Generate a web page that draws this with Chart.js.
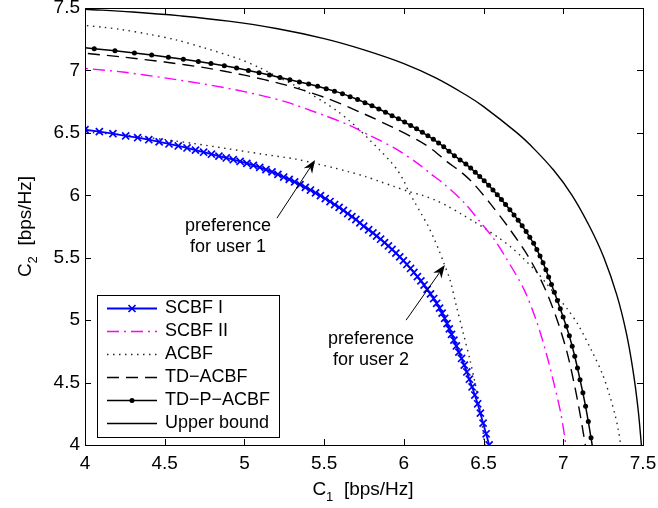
<!DOCTYPE html>
<html>
<head>
<meta charset="utf-8">
<script src="https://cdn.jsdelivr.net/npm/chart.js@4.4.1/dist/chart.umd.min.js"></script>
<style>
  html, body { margin: 0; padding: 0; background: #fff; }
  canvas { display: block; }
</style>
</head>
<body>
<canvas id="c" width="658" height="508"></canvas>
<script>
// ---- axis ticks ----
const xTicks = [4, 4.5, 5, 5.5, 6, 6.5, 7, 7.5];
const yTicks = [4, 4.5, 5, 5.5, 6, 6.5, 7, 7.5];
const xTickLabels = ['4', '4.5', '5', '5.5', '6', '6.5', '7', '7.5'];
const yTickLabels = ['4', '4.5', '5', '5.5', '6', '6.5', '7', '7.5'];

// ---- SCBF I (rate pairs C1, C2) ----
const scbf1C1 = [4.000,4.090,4.175,4.255,4.330,4.400,4.465,4.527,4.585,4.640,4.693,4.744,4.793,4.840,4.886,4.930,4.973,5.015,5.056,5.096,5.135,5.173,5.210,5.246,5.281,5.315,5.349,5.382,5.414,5.446,5.477,5.507,5.537,5.566,5.594,5.621,5.648,5.674,5.699,5.724,5.748,5.779,5.806,5.829,5.854,5.879,5.903,5.926,5.950,5.974,5.997,6.019,6.042,6.063,6.085,6.107,6.127,6.146,6.167,6.187,6.206,6.224,6.240,6.256,6.271,6.285,6.299,6.314,6.329,6.345,6.362,6.379,6.395,6.411,6.428,6.445,6.463,6.480,6.497,6.516,6.535];
const scbf1C2 = [6.525,6.510,6.493,6.475,6.461,6.445,6.428,6.411,6.395,6.379,6.362,6.345,6.329,6.314,6.299,6.285,6.271,6.256,6.240,6.224,6.206,6.187,6.167,6.146,6.127,6.107,6.085,6.063,6.042,6.019,5.997,5.974,5.950,5.926,5.903,5.879,5.854,5.829,5.806,5.779,5.752,5.724,5.699,5.674,5.648,5.621,5.594,5.566,5.537,5.507,5.477,5.446,5.414,5.382,5.349,5.315,5.281,5.246,5.210,5.173,5.135,5.096,5.056,5.015,4.973,4.930,4.886,4.840,4.793,4.744,4.693,4.640,4.585,4.527,4.465,4.400,4.330,4.255,4.175,4.090,4.000];

// ---- SCBF II ----
const scbf2C1 = [3.900,4.000,4.250,4.500,4.750,5.000,5.250,5.500,5.655,5.788,5.948,6.095,6.170,6.248,6.373,6.478,6.562,6.640,6.752,6.830,6.890,6.940,6.985,7.016,7.025];
const scbf2C2 = [7.025,7.016,6.985,6.940,6.890,6.830,6.752,6.640,6.562,6.478,6.373,6.248,6.170,6.095,5.948,5.788,5.655,5.500,5.250,5.000,4.750,4.500,4.250,4.000,3.900];

// ---- ACBF, preference for user 2 ----
const acbfU2C1 = [3.900,4.000,4.120,4.230,4.400,4.570,4.750,4.970,5.090,5.190,5.300,5.390,5.500,5.587,5.660,5.725,5.788,5.850,5.913,5.960,6.000,6.030,6.070,6.110,6.150,6.190,6.220,6.250,6.290,6.330,6.373,6.415,6.447,6.468,6.488,6.503,6.508,6.515];
const acbfU2C2 = [7.370,7.360,7.345,7.327,7.290,7.245,7.180,7.090,7.025,6.960,6.890,6.830,6.745,6.670,6.595,6.520,6.440,6.360,6.275,6.200,6.115,6.030,5.940,5.850,5.760,5.650,5.560,5.460,5.320,5.110,4.894,4.680,4.494,4.360,4.200,4.040,4.000,3.900];

// ---- ACBF, preference for user 1 ----
const acbfU1C1 = [3.900,4.000,4.040,4.200,4.360,4.494,4.680,4.894,5.110,5.320,5.460,5.560,5.650,5.760,5.850,5.940,6.030,6.115,6.200,6.275,6.360,6.440,6.520,6.595,6.670,6.745,6.830,6.890,6.960,7.025,7.090,7.180,7.245,7.290,7.327,7.345,7.360,7.370];
const acbfU1C2 = [6.515,6.508,6.503,6.488,6.468,6.447,6.415,6.373,6.330,6.290,6.250,6.220,6.190,6.150,6.110,6.070,6.030,6.000,5.960,5.913,5.850,5.788,5.725,5.660,5.587,5.500,5.390,5.300,5.190,5.090,4.970,4.750,4.570,4.400,4.230,4.120,4.000,3.900];

// ---- TD-ACBF ----
const tdC1 = [3.900,4.000,4.250,4.500,4.750,5.000,5.250,5.500,5.750,5.935,6.095,6.180,6.270,6.365,6.436,6.541,6.652,6.785,6.886,6.962,7.022,7.067,7.105,7.138,7.150];
const tdC2 = [7.150,7.138,7.105,7.067,7.022,6.962,6.886,6.785,6.652,6.541,6.436,6.365,6.270,6.180,6.095,5.935,5.750,5.500,5.250,5.000,4.750,4.500,4.250,4.000,3.900];

// ---- TD-P-ACBF ----
const tdpC1 = [3.930,4.058,4.188,4.310,4.418,4.523,4.617,4.711,4.790,4.874,4.951,5.025,5.092,5.157,5.223,5.285,5.345,5.403,5.459,5.513,5.565,5.615,5.663,5.710,5.756,5.800,5.843,5.885,5.926,5.966,6.005,6.043,6.080,6.116,6.151,6.185,6.218,6.250,6.283,6.317,6.353,6.389,6.419,6.448,6.476,6.504,6.532,6.559,6.586,6.612,6.638,6.665,6.691,6.717,6.742,6.767,6.790,6.814,6.834,6.854,6.873,6.891,6.908,6.926,6.944,6.963,6.981,6.999,7.019,7.038,7.056,7.072,7.089,7.105,7.123,7.140,7.157,7.174,7.190];
const tdpC2 = [7.190,7.174,7.157,7.140,7.123,7.105,7.089,7.072,7.056,7.038,7.019,6.999,6.981,6.963,6.944,6.926,6.908,6.891,6.873,6.854,6.834,6.814,6.790,6.767,6.742,6.717,6.691,6.665,6.638,6.612,6.586,6.559,6.532,6.504,6.476,6.448,6.419,6.389,6.353,6.317,6.283,6.250,6.218,6.185,6.151,6.116,6.080,6.043,6.005,5.966,5.926,5.885,5.843,5.800,5.756,5.710,5.663,5.615,5.565,5.513,5.459,5.403,5.345,5.285,5.223,5.157,5.092,5.025,4.951,4.874,4.790,4.711,4.617,4.523,4.418,4.310,4.188,4.058,3.930];

// ---- Upper bound ----
const ubC1 = [3.900,4.000,4.300,4.600,4.900,5.200,5.500,5.750,6.000,6.200,6.400,6.500,6.710,6.795,6.940,7.055,7.165,7.255,7.336,7.395,7.437,7.468,7.490,7.497];
const ubC2 = [7.497,7.490,7.468,7.437,7.395,7.336,7.255,7.165,7.055,6.940,6.795,6.710,6.500,6.400,6.200,6.000,5.750,5.500,5.200,4.900,4.600,4.300,4.000,3.900];

const FONT = "'Liberation Sans', Arial, Helvetica, sans-serif";

function pairs(xs, ys) { return xs.map((v, i) => ({ x: v, y: ys[i] })); }

const datasets = [
  { label: 'SCBF I', data: pairs(scbf1C1, scbf1C2), borderColor: '#0000ff', borderWidth: 1.8,
    pointStyle: 'crossRot', pointRadius: 5, pointBorderWidth: 1.7, pointBorderColor: '#0000ff',
    pointBackgroundColor: '#0000ff', tension: 0 },
  { label: 'SCBF II', data: pairs(scbf2C1, scbf2C2), borderColor: '#ff00ff', borderWidth: 1.4,
    borderDash: [12, 5, 2, 5], pointRadius: 0, tension: 0.3 },
  { label: 'ACBF', data: pairs(acbfU2C1, acbfU2C2), borderColor: 'rgba(0,0,0,0.85)', borderWidth: 1.4,
    borderDash: [1.5, 4.5], pointRadius: 0, tension: 0.3 },
  { label: 'ACBF', data: pairs(acbfU1C1, acbfU1C2), borderColor: 'rgba(0,0,0,0.85)', borderWidth: 1.4,
    borderDash: [1.5, 4.5], pointRadius: 0, tension: 0.3, hideInLegend: true },
  { label: 'TD\u2212ACBF', data: pairs(tdC1, tdC2), borderColor: '#000', borderWidth: 1.4,
    borderDash: [12, 7], pointRadius: 0, tension: 0.3 },
  { label: 'TD\u2212P\u2212ACBF', data: pairs(tdpC1, tdpC2), borderColor: '#000', borderWidth: 1.5,
    pointStyle: 'circle', pointRadius: 2.5, pointBorderWidth: 0, pointBackgroundColor: '#000', tension: 0 },
  { label: 'Upper bound', data: pairs(ubC1, ubC2), borderColor: '#000', borderWidth: 1.4,
    pointRadius: 0, tension: 0.4 }
];

// text notes with arrows (anchors in data units)
const notes = [
  { lines: ['preference', 'for user 1'], at: { x: 4.897, y: 5.713 },
    arrowFrom: { x: 5.204, y: 5.817 }, arrowTo: { x: 5.443, y: 6.282 } },
  { lines: ['preference', 'for user 2'], at: { x: 5.794, y: 4.809 },
    arrowFrom: { x: 6.014, y: 5.000 }, arrowTo: { x: 6.257, y: 5.441 } }
];

function drawMarker(ctx, ds, cx, cy) {
  if (!ds.pointRadius) return;
  const r = ds.pointRadius;
  ctx.save();
  ctx.setLineDash([]);
  if (ds.pointStyle === 'crossRot') {
    ctx.strokeStyle = ds.pointBorderColor; ctx.lineWidth = ds.pointBorderWidth;
    ctx.beginPath();
    ctx.moveTo(cx - r * 0.7, cy - r * 0.7); ctx.lineTo(cx + r * 0.7, cy + r * 0.7);
    ctx.moveTo(cx - r * 0.7, cy + r * 0.7); ctx.lineTo(cx + r * 0.7, cy - r * 0.7);
    ctx.stroke();
  } else {
    ctx.fillStyle = ds.pointBackgroundColor;
    ctx.beginPath(); ctx.arc(cx, cy, r, 0, Math.PI * 2); ctx.fill();
  }
  ctx.restore();
}

function drawArrow(ctx, x0, y0, x1, y1) {
  const ang = Math.atan2(y1 - y0, x1 - x0);
  const len = 13, half = 5, notch = 9;
  const bx = x1 - Math.cos(ang) * notch, by = y1 - Math.sin(ang) * notch;
  ctx.beginPath();
  ctx.moveTo(x0, y0); ctx.lineTo(bx, by);
  ctx.lineWidth = 1; ctx.strokeStyle = '#000'; ctx.stroke();
  const px = -Math.sin(ang), py = Math.cos(ang);
  const wx = x1 - Math.cos(ang) * len, wy = y1 - Math.sin(ang) * len;
  ctx.beginPath();
  ctx.moveTo(x1, y1);
  ctx.lineTo(wx + px * half, wy + py * half);
  ctx.lineTo(bx, by);
  ctx.lineTo(wx - px * half, wy - py * half);
  ctx.closePath();
  ctx.fillStyle = '#000'; ctx.fill();
}

const decorations = {
  id: 'decorations',
  afterDraw(chart) {
    const { ctx, chartArea: a, scales } = chart;
    const sx = scales.x, sy = scales.y;
    ctx.save();

    // notes and arrows
    ctx.fillStyle = '#000';
    ctx.font = '18px ' + FONT;
    ctx.textAlign = 'center';
    ctx.textBaseline = 'alphabetic';
    notes.forEach(n => {
      const cx = sx.getPixelForValue(n.at.x), cy = sy.getPixelForValue(n.at.y);
      n.lines.forEach((t, i) => ctx.fillText(t, cx, cy + i * 21));
      drawArrow(ctx, sx.getPixelForValue(n.arrowFrom.x), sy.getPixelForValue(n.arrowFrom.y),
                sx.getPixelForValue(n.arrowTo.x), sy.getPixelForValue(n.arrowTo.y));
    });

    // frame with inward ticks on all four sides
    ctx.strokeStyle = '#000';
    ctx.lineWidth = 1;
    ctx.setLineDash([]);
    ctx.strokeRect(a.left + 0.5, a.top + 0.5, a.right - a.left, a.bottom - a.top);
    const tl = 6;
    ctx.beginPath();
    xTicks.forEach(v => {
      const p = Math.round(sx.getPixelForValue(v)) + 0.5;
      ctx.moveTo(p, a.bottom); ctx.lineTo(p, a.bottom - tl);
      ctx.moveTo(p, a.top); ctx.lineTo(p, a.top + tl);
    });
    yTicks.forEach(v => {
      const p = Math.round(sy.getPixelForValue(v)) + 0.5;
      ctx.moveTo(a.left, p); ctx.lineTo(a.left + tl, p);
      ctx.moveTo(a.right, p); ctx.lineTo(a.right - tl, p);
    });
    ctx.stroke();

    // legend box
    const lx = a.left + 12, lw = 182, lh = 142, ly = a.bottom - 8 - lh;
    const entries = chart.data.datasets.filter(d => !d.hideInLegend);
    ctx.fillStyle = '#fff';
    ctx.fillRect(lx, ly, lw, lh);
    ctx.strokeStyle = '#000'; ctx.lineWidth = 1;
    ctx.strokeRect(Math.round(lx) + 0.5, Math.round(ly) + 0.5, lw, lh);
    ctx.font = '18px ' + FONT;
    ctx.textAlign = 'left';
    ctx.textBaseline = 'middle';
    entries.forEach((d, i) => {
      const ry = Math.round(ly + 13 + i * 23) + 0.5;
      ctx.save();
      ctx.strokeStyle = d.borderColor; ctx.lineWidth = d.borderWidth;
      ctx.setLineDash(d.borderDash || []);
      ctx.beginPath(); ctx.moveTo(lx + 10, ry); ctx.lineTo(lx + 60, ry); ctx.stroke();
      ctx.restore();
      drawMarker(ctx, d, lx + 35, ry);
      ctx.fillStyle = '#000';
      ctx.fillText(d.label, lx + 68, ry);
    });

    // axis titles with subscripts
    const big = '19px ' + FONT, small = '13px ' + FONT;
    function title(base, sub, rest) {
      ctx.font = big; const w1 = ctx.measureText(base).width, w3 = ctx.measureText(rest).width;
      ctx.font = small; const w2 = ctx.measureText(sub).width;
      const start = -(w1 + w2 + w3) / 2;
      ctx.textAlign = 'left'; ctx.textBaseline = 'alphabetic'; ctx.fillStyle = '#000';
      ctx.font = big; ctx.fillText(base, start, 0);
      ctx.font = small; ctx.fillText(sub, start + w1, 6);
      ctx.font = big; ctx.fillText(rest, start + w1 + w2, 0);
    }
    ctx.save();
    ctx.translate((a.left + a.right) / 2 - 1, 495);
    title('C', '1', '  [bps/Hz]');
    ctx.restore();
    ctx.save();
    ctx.translate(31, (a.top + a.bottom) / 2);
    ctx.rotate(-Math.PI / 2);
    title('C', '2', '  [bps/Hz]');
    ctx.restore();

    ctx.restore();
  }
};

new Chart(document.getElementById('c'), {
  type: 'line',
  data: { datasets },
  options: {
    responsive: false,
    animation: false,
    devicePixelRatio: 1,
    layout: { padding: { top: 8, right: 15, left: 0, bottom: 0 } },
    plugins: { legend: { display: false }, tooltip: { enabled: false } },
    scales: {
      x: {
        type: 'linear', min: 4, max: 7.5,
        afterBuildTicks: s => { s.ticks = xTicks.map(v => ({ value: v })); },
        afterFit: s => { s.height = 63; s.paddingLeft = 0; s.paddingRight = 0; },
        ticks: { callback: (v, i) => xTickLabels[i], color: '#000', padding: 7,
                 font: { family: FONT, size: 19 }, maxRotation: 0, autoSkip: false },
        grid: { display: false, drawTicks: false },
        border: { display: false }
      },
      y: {
        type: 'linear', min: 4, max: 7.5,
        afterBuildTicks: s => { s.ticks = yTicks.map(v => ({ value: v })); },
        afterFit: s => { s.width = 85; s.paddingTop = 0; s.paddingBottom = 0; },
        ticks: { callback: (v, i) => yTickLabels[i], color: '#000', padding: 5,
                 font: { family: FONT, size: 19 }, autoSkip: false },
        grid: { display: false, drawTicks: false },
        border: { display: false }
      }
    }
  },
  plugins: [decorations]
});
</script>
</body>
</html>
